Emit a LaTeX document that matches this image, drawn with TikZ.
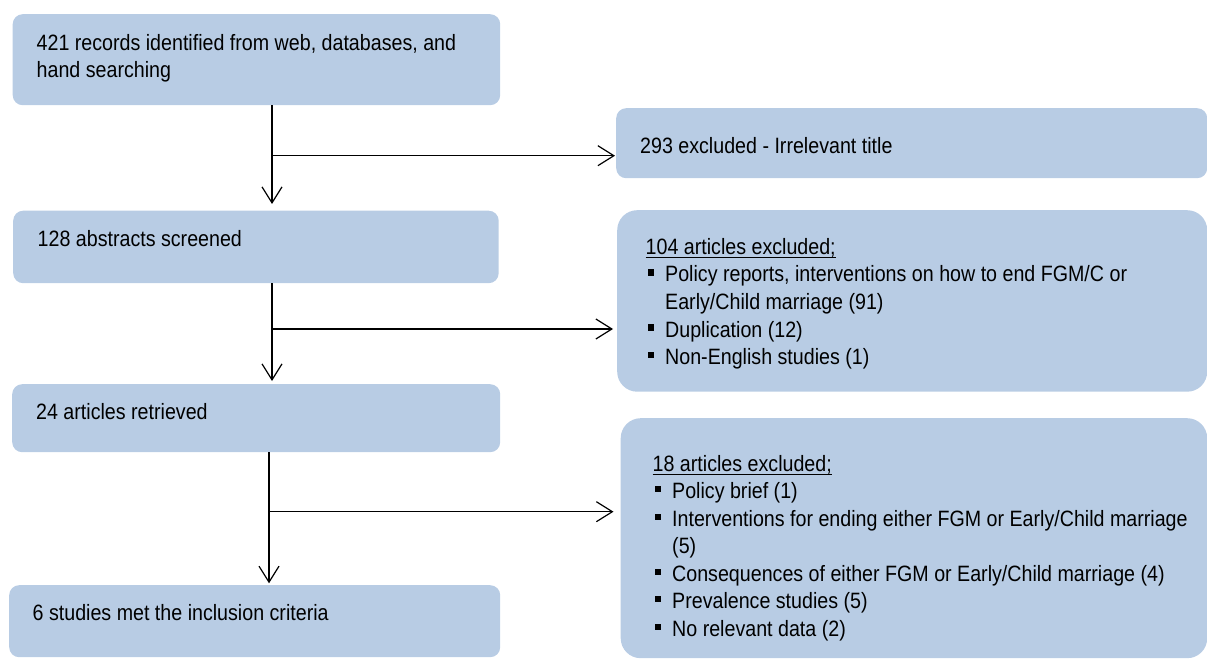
\documentclass[tikz,border=0pt]{standalone}
\usepackage{fontspec}
\setmainfont[FakeStretch=0.885]{Liberation Sans}
\usetikzlibrary{arrows.meta}
\definecolor{boxblue}{RGB}{184,204,228}
\newcommand\bxt[5]{\parbox[c][#2][t]{#1}{\raggedright\leftskip=#3\relax\rule{0pt}{#4}#5}}
\newcommand\ulh[1]{\setbox0\hbox{#1}\rlap{\rule[-3.5pt]{\wd0}{1.1pt}}\box0}
\newcommand\itm{\par\hangindent=19.5pt\hangafter=1\noindent\makebox[19.5pt][l]{\hspace{2pt}\rule[6.3pt]{6pt}{6.2pt}}}
\tikzset{
  box/.style={fill=boxblue, rounded corners=10pt, inner sep=0pt, anchor=north west,
    font=\fontsize{22.2}{27.5}\selectfont},
  bigbox/.style={box, rounded corners=20pt},
  arr/.style={draw=black, line width=1.3pt, -{Straight Barb[length=16pt,width=20pt,line width=1.2pt]}}
}
\begin{document}
\begin{tikzpicture}[x=1pt,y=-1pt]
\useasboundingbox (0,0) rectangle (1207,660);
\node[box] (b1) at (12.5,14) {\bxt{487.5pt}{91pt}{24pt}{36pt}{421 records identified from web, databases, and\newline hand searching}};
\node[box] (b2) at (13,210.5) {\bxt{485.5pt}{72.5pt}{24.5pt}{35.5pt}{128 abstracts screened}};
\node[box] (b3) at (12,384) {\bxt{488pt}{68pt}{24pt}{35.3pt}{24 articles retrieved}};
\node[box] (b4) at (9,585) {\bxt{491pt}{72pt}{23.5pt}{35pt}{6 studies met the inclusion criteria}};
\node[box] (r1) at (616,108) {\bxt{591pt}{70pt}{24pt}{45.3pt}{293 excluded - Irrelevant title}};
\node[bigbox] (r2) at (617,210) {\bxt{590pt}{181.5pt}{28.5pt}{44.3pt}{\ulh{104 articles excluded;}%
\itm Policy reports, interventions on how to end FGM/C or\newline Early/Child marriage (91)%
\itm Duplication (12)%
\itm Non-English studies (1)}};
\node[bigbox] (r3) at (620.5,418) {\bxt{586.5pt}{240pt}{32pt}{53pt}{\ulh{18 articles excluded;}%
\itm Policy brief (1)%
\itm Interventions for ending either FGM or Early/Child marriage\newline (5)%
\itm Consequences of either FGM or Early/Child marriage (4)%
\itm Prevalence studies (5)%
\itm No relevant data (2)}};
\coordinate (j1) at (272,155.7);
\coordinate (j2) at (272,329);
\coordinate (j3) at (269,511.7);
\draw[arr, shorten >=6.5pt] (b1.south -| j1) -- (b2.north -| j1);
\draw[arr, shorten >=1pt] (j1) -- (r1.west |- j1);
\draw[arr, shorten >=3pt] (b2.south -| j2) -- (b3.north -| j2);
\draw[arr, shorten >=4pt] (j2) -- (r2.west |- j2);
\draw[arr, shorten >=1.7pt] (b3.south -| j3) -- (b4.north -| j3);
\draw[arr, shorten >=7pt] (j3) -- (r3.west |- j3);
\end{tikzpicture}
\end{document}
